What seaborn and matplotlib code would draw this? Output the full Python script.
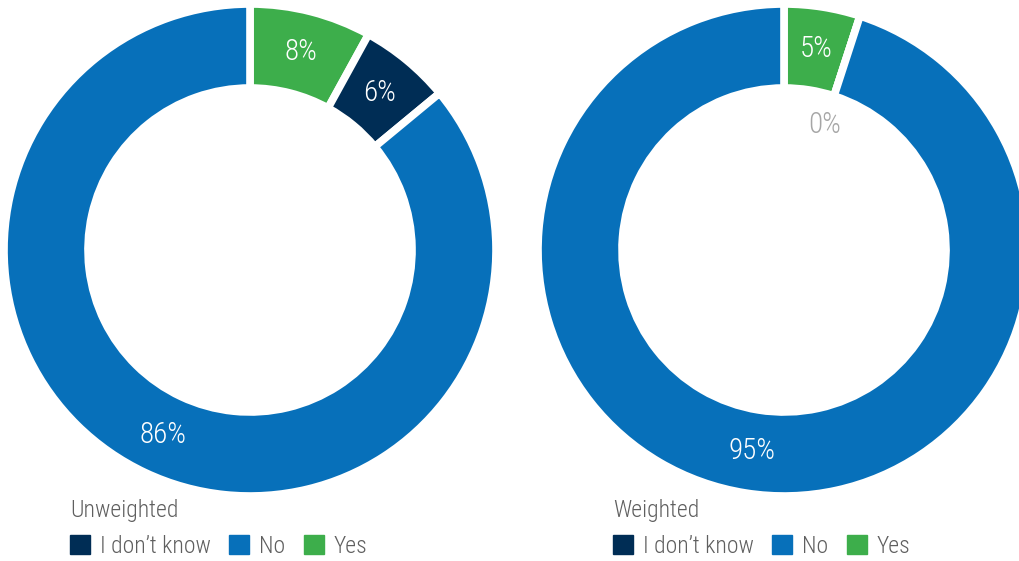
import numpy as np
import matplotlib
matplotlib.use("Agg")
import matplotlib.pyplot as plt
import matplotlib.patches as mpatches
import seaborn as sns

# data
categories = ["I don't know", "No", "Yes"]
pie_order = ["Yes", "I don't know", "No"]
unweighted = {"Yes": 8, "I don't know": 6, "No": 86}
weighted = {"Yes": 5, "I don't know": 0, "No": 95}
titles = ["Unweighted", "Weighted"]

colors = {"I don't know": "#002D55", "No": "#0770BA", "Yes": "#3DAE4B"}

sns.set_theme(style="white")
plt.rcParams['font.family'] = ['Roboto Condensed', 'Roboto', 'DejaVu Sans']
plt.rcParams['font.weight'] = 'light'

W, H = 1019, 561
fig = plt.figure(figsize=(W / 100, H / 100), dpi=100)
ax = fig.add_axes([0, 0, 1, 1])

R = 246
width = 84
centers = [(250, H - 250), (784, H - 250)]
legend_pos = [(70, 499), (613, 499)]

for data, (cx, cy), title, (lx, ly) in zip([unweighted, weighted], centers, titles, legend_pos):
    vals = [data[k] for k in pie_order]
    ax.pie(vals, colors=[colors[k] for k in pie_order], startangle=90, counterclock=False,
           center=(cx, cy), radius=R, frame=True,
           wedgeprops=dict(width=width, edgecolor="white", linewidth=5.5))
    # percentage labels
    total = sum(vals)
    start = 0
    for k, v in zip(pie_order, vals):
        mid = 90 - (start + v / 2) / total * 360
        start += v
        if v == 0:
            rr = 131
            col = "#A6A6A6"
        else:
            rr = 204
            col = "white"
        x = cx + rr * np.cos(np.radians(mid))
        y = cy + rr * np.sin(np.radians(mid))
        ax.text(x, y, f"{v}%", color=col, fontsize=21, ha="center", va="center",
                fontweight="light")

    handles = [mpatches.Patch(color=colors[c], label=c.replace("'", "\u2019")) for c in categories]
    leg = fig.legend(handles=handles, loc="upper left", bbox_to_anchor=(lx / W, 1 - ly / H),
                     ncol=3, frameon=False, title=title,
                     alignment="left", fontsize=17, title_fontsize=17, handlelength=0.85,
                     handleheight=0.85, handletextpad=0.4, columnspacing=0.8, borderpad=0,
                     borderaxespad=0, labelspacing=0.55)
    for t in leg.get_texts():
        t.set_color("#5F5F5F")
    leg.get_title().set_color("#5F5F5F")

ax.set_xlim(0, W)
ax.set_ylim(0, H)
ax.set_aspect("equal")
ax.axis("off")

fig.savefig("out.png", dpi=100)
